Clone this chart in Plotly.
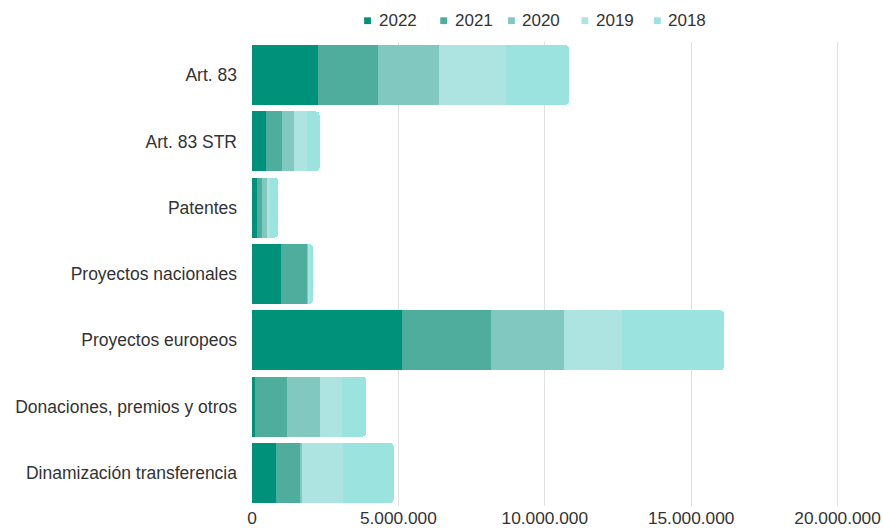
import plotly.graph_objects as go

categorias = ['Art. 83', 'Art. 83 STR', 'Patentes', 'Proyectos nacionales',
              'Proyectos europeos', 'Donaciones, premios y otros',
              'Dinamización transferencia']

anios = ['2022', '2021', '2020', '2019', '2018']

v2022 = [2250000, 480000, 180000, 1000000, 5120000, 90000, 820000]
v2021 = [2070000, 550000, 170000, 880000, 3040000, 1110000, 820000]
v2020 = [2070000, 420000, 170000, 50000, 2500000, 1120000, 60000]
v2019 = [2280000, 420000, 100000, 50000, 1970000, 760000, 1410000]
v2018 = [2160000, 440000, 270000, 100000, 3490000, 820000, 1730000]

valores = [v2022, v2021, v2020, v2019, v2018]
colores = ['#00917a', '#4fad9e', '#80c8c0', '#ade3e0', '#9ae3df']

tick_vals = [0, 5000000, 10000000, 15000000, 20000000]
tick_text = ['0', '5.000.000', '10.000.000', '15.000.000', '20.000.000']

# legend item positions (paper x of each square marker)
legend_x = [0.1968, 0.3265, 0.4420, 0.5671, 0.6906]
legend_y = 1.0459

fig = go.Figure()

for anio, vals, col in zip(anios, valores, colores):
    fig.add_trace(go.Bar(y=categorias, x=vals, orientation='h', name=anio,
                         marker=dict(color=col, line=dict(width=0)),
                         showlegend=False))

# custom legend: small squares + labels
for anio, col, lx in zip(anios, colores, legend_x):
    fig.add_shape(type='rect', xref='paper', yref='paper',
                  xsizemode='pixel', ysizemode='pixel',
                  xanchor=lx, yanchor=legend_y,
                  x0=-3.4, x1=3.4, y0=-3.4, y1=3.4,
                  fillcolor=col, line=dict(width=0))
    fig.add_annotation(x=lx, y=legend_y, xref='paper', yref='paper',
                       text=anio, showarrow=False, xanchor='left', yanchor='middle',
                       xshift=9, font=dict(size=17, color='#333333'))

fig.update_layout(
    barmode='stack',
    bargap=0.095,
    barcornerradius=4,
    width=883, height=531,
    margin=dict(l=252, r=44, t=42, b=25, autoexpand=False),
    plot_bgcolor='white',
    paper_bgcolor='white',
    font=dict(family='Liberation Sans, Arial, sans-serif', size=17, color='#333333'),
    showlegend=False,
)

fig.update_xaxes(range=[0, 20050000], tickvals=tick_vals, ticktext=tick_text,
                 showgrid=True, gridcolor='#e0e0e0', gridwidth=1, automargin=False,
                 zeroline=False, showline=False, ticks='', tickfont=dict(size=17.3))
fig.update_yaxes(categoryorder='array', categoryarray=categorias,
                 autorange='reversed', showgrid=False, ticks='', automargin=False,
                 ticklabelstandoff=14, tickfont=dict(size=17.5))

# drop the default page margin so the figure sits at the top-left corner
fig.write_html("out.html", config={'displayModeBar': False},
               post_script="document.body.style.margin='0';")
